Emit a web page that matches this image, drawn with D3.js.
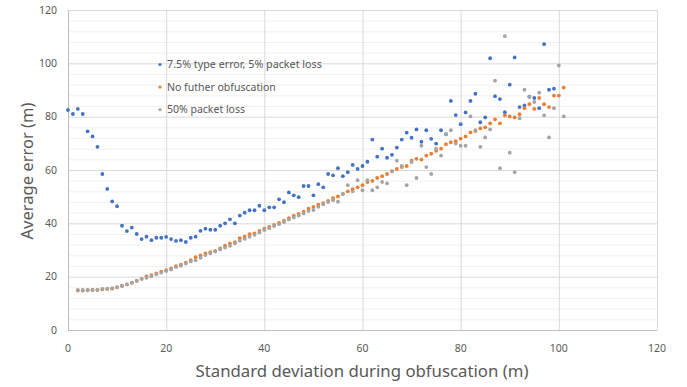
<!DOCTYPE html>
<html>
<head>
<meta charset="utf-8">
<script src="https://cdn.jsdelivr.net/npm/d3@7"></script>
<style>
  body { margin: 0; background: #fff; }
  svg { display: block; font-family: "Noto Sans", "Open Sans", sans-serif; }
</style>
</head>
<body>
<svg id="chart" width="687" height="387"></svg>
<script>
// series values (x = 0,1,2,... for blue; 2,3,... for the others)
const typeErrX0 = 0
const typeErrVals = [82.5, 81, 82.9, 81, 74.5, 72.6, 68.7, 58.5, 52.9, 48.2,
  46.4, 39.1, 37.1, 38.4, 36, 34.1, 35, 33.7, 34.6, 34.6,
  34.9, 34.1, 33.4, 33.7, 33, 34.6, 35, 37.2, 38, 37.6,
  37.6, 39.1, 40, 41.5, 40, 42.9, 44, 44.9, 44.9, 46.6,
  44.9, 46, 46, 49, 47.9, 51.6, 50.5, 49.8, 54, 54,
  50.5, 54.7, 53.5, 58.5, 58, 60.7, 57.7, 59.2, 61.9, 60.4,
  61.5, 63.1, 71.4, 65, 68, 64.6, 65.7, 68.4, 71.4, 74,
  72.1, 75.2, 70.6, 74.9, 71.7, 69.9, 74.9, 73.4, 85.9, 80.6,
  77.2, 81.6, 85.9, 88.6, 77.9, 79.7, 101.9, 87.7, 86.6, 81.7,
  92, 102.2, 83.6, 84.2, 87.5, 87, 83.2, 107.2, 90.1, 90.5]

const noObfX0 = 2
const noObfVals = [14.8, 14.8, 14.9, 15, 15, 15.2, 15.4, 15.5,
  16, 16.5, 17.1, 17.7, 18.4, 19.2, 20.1, 20.6, 21.2, 21.9,
  22.4, 23.1, 23.9, 24.5, 25.3, 26.2, 27.3, 28, 28.7, 29.2,
  29.7, 30.6, 31.6, 32.5, 32.9, 34.4, 35, 35.9, 36.2, 37.2,
  38, 38.7, 39.4, 40.2, 41, 41.9, 42.9, 43.5, 44.4, 45.5,
  46.2, 47, 47.6, 48.4, 49.4, 50.1, 51, 52, 52.8, 53.5,
  54.3, 55.5, 55.9, 57, 57.7, 58.5, 59.5, 60.4, 61.1, 61.5,
  63.5, 64.2, 63.9, 65.4, 66.1, 67.2, 68, 69.7, 70.4, 70.8,
  71.8, 72.6, 74.1, 74.6, 75.6, 76, 77.5, 79, 77.5, 80.5,
  80.1, 79.7, 80.9, 83.2, 84.7, 82.9, 87, 84.7, 83.6, 87.9,
  87.9, 90.9]

const lossX0 = 2
const lossVals = [15, 15, 15, 15, 15, 15.4, 15.5, 15.7,
  16.1, 16.6, 17.1, 17.8, 18.5, 19.2, 19.6, 20.2, 20.9, 21.5,
  22.1, 22.7, 23.6, 24.1, 24.9, 25.7, 26.2, 27.1, 28.1, 28.7,
  29.4, 30.2, 30.9, 31.6, 32.5, 33.5, 34.2, 35, 35.7, 36.6,
  37.5, 38.2, 39, 39.7, 40.5, 41.4, 42.2, 42.9, 43.7, 44.6,
  45, 46.2, 47.1, 48, 48.7, 48.1, 51, 54.3, 52, 56.2,
  52.4, 56.2, 52.4, 53.5, 55.5, 55, 59.6, 63.5, 61.5, 54.3,
  63, 57, 69.1, 61.1, 58.5, 68, 65.4, 73.4, 74.9, 69.9,
  69.1, 69.1, 80.1, 74.9, 68.7, 72.2, 75.2, 93.5, 60.7, 110.2,
  66.5, 59.2, 79.4, 90.1, 87.4, 85.5, 89, 80.5, 72.2, 83.2,
  99.2, 80.1]

const seriesNames = ["7.5% type error, 5% packet loss", "No futher obfuscation", "50% packet loss"]
const seriesColors = ["#4472c4", "#ed7d31", "#a5a5a5"]
const xTicks = [0, 20, 40, 60, 80, 100, 120]
const yTicks = [0, 20, 40, 60, 80, 100, 120]
const xTitle = "Standard deviation during obfuscation (m)"
const yTitle = "Average error (m)"

const toPoints = (x0, vals) => vals.map((v, i) => ({ x: x0 + i, y: v }))
const series = [
  toPoints(typeErrX0, typeErrVals),
  toPoints(noObfX0, noObfVals),
  toPoints(lossX0, lossVals),
]

const svg = d3.select("#chart")
const x = d3.scaleLinear().domain([0, 120]).range([68, 657])
const y = d3.scaleLinear().domain([0, 120]).range([330, 10])

// stretch / shrink a text so that it spans a given width
function fit(sel, width) {
  sel.each(function () {
    const w = this.getComputedTextLength()
    const fs = parseFloat(d3.select(this).attr("font-size"))
    d3.select(this).attr("font-size", (fs * width / w).toFixed(2))
  })
}

// minor horizontal grid, every 4
svg.append("g")
  .selectAll("line")
  .data(d3.range(4, 120, 4).filter(v => v % 20 !== 0))
  .enter().append("line")
  .attr("x1", x(0)).attr("x2", x(120))
  .attr("y1", d => y(d) + 0.5).attr("y2", d => y(d) + 0.5)
  .attr("stroke", "#f0f0f0")

// major grid
svg.append("g")
  .selectAll("line")
  .data(yTicks.slice(1))
  .enter().append("line")
  .attr("x1", x(0)).attr("x2", x(120))
  .attr("y1", d => y(d) + 0.5).attr("y2", d => y(d) + 0.5)
  .attr("stroke", "#d9d9d9")

svg.append("g")
  .selectAll("line")
  .data(xTicks.slice(1))
  .enter().append("line")
  .attr("x1", d => x(d) + 0.5).attr("x2", d => x(d) + 0.5)
  .attr("y1", y(0)).attr("y2", y(120))
  .attr("stroke", "#d9d9d9")

// axes lines
svg.append("line")
  .attr("x1", x(0) + 0.5).attr("x2", x(0) + 0.5)
  .attr("y1", y(0)).attr("y2", y(120))
  .attr("stroke", "#bfbfbf")
svg.append("line")
  .attr("x1", x(0)).attr("x2", x(120))
  .attr("y1", y(0) + 0.5).attr("y2", y(0) + 0.5)
  .attr("stroke", "#bfbfbf")

// tick labels
svg.append("g")
  .selectAll("text")
  .data(xTicks)
  .enter().append("text")
  .attr("x", d => x(d))
  .attr("y", 348)
  .attr("dy", ".35em")
  .attr("text-anchor", "middle")
  .attr("font-size", 10.5)
  .attr("fill", "#595959")
  .text(d => d)

svg.append("g")
  .selectAll("text")
  .data(yTicks)
  .enter().append("text")
  .attr("x", 57)
  .attr("y", d => y(d))
  .attr("dy", ".35em")
  .attr("text-anchor", "end")
  .attr("font-size", 10.5)
  .attr("fill", "#595959")
  .text(d => d)

// axis titles
svg.append("text")
  .attr("x", 362).attr("y", 371)
  .attr("dy", ".35em")
  .attr("text-anchor", "middle")
  .attr("font-family", "'Liberation Sans Narrow', 'Noto Sans', sans-serif")
  .attr("font-size", 16)
  .attr("fill", "#595959")
  .text(xTitle)
  .call(fit, 333)

svg.append("text")
  .attr("transform", "translate(27,171)rotate(-90)")
  .attr("dy", ".35em")
  .attr("text-anchor", "middle")
  .attr("font-size", 16)
  .attr("fill", "#595959")
  .text(yTitle)
  .call(fit, 137)

// points
series.forEach((pts, k) => {
  svg.append("g")
    .selectAll("circle")
    .data(pts)
    .enter().append("circle")
    .attr("cx", d => x(d.x))
    .attr("cy", d => y(d.y))
    .attr("r", 1.9)
    .attr("fill", seriesColors[k])
})

// legend
const legendW = [155, 109, 78]
const leg = svg.append("g")
  .selectAll("g")
  .data(seriesNames)
  .enter().append("g")
  .attr("transform", (d, i) => "translate(160," + (64.5 + i * 22.6) + ")")

leg.append("circle")
  .attr("r", 1.6)
  .attr("fill", (d, i) => seriesColors[i])

leg.append("text")
  .attr("x", 7)
  .attr("dy", ".35em")
  .attr("font-size", 11)
  .attr("fill", "#595959")
  .text(d => d)
  .each(function (d, i) { d3.select(this).call(fit, legendW[i]) })
</script>
</body>
</html>
